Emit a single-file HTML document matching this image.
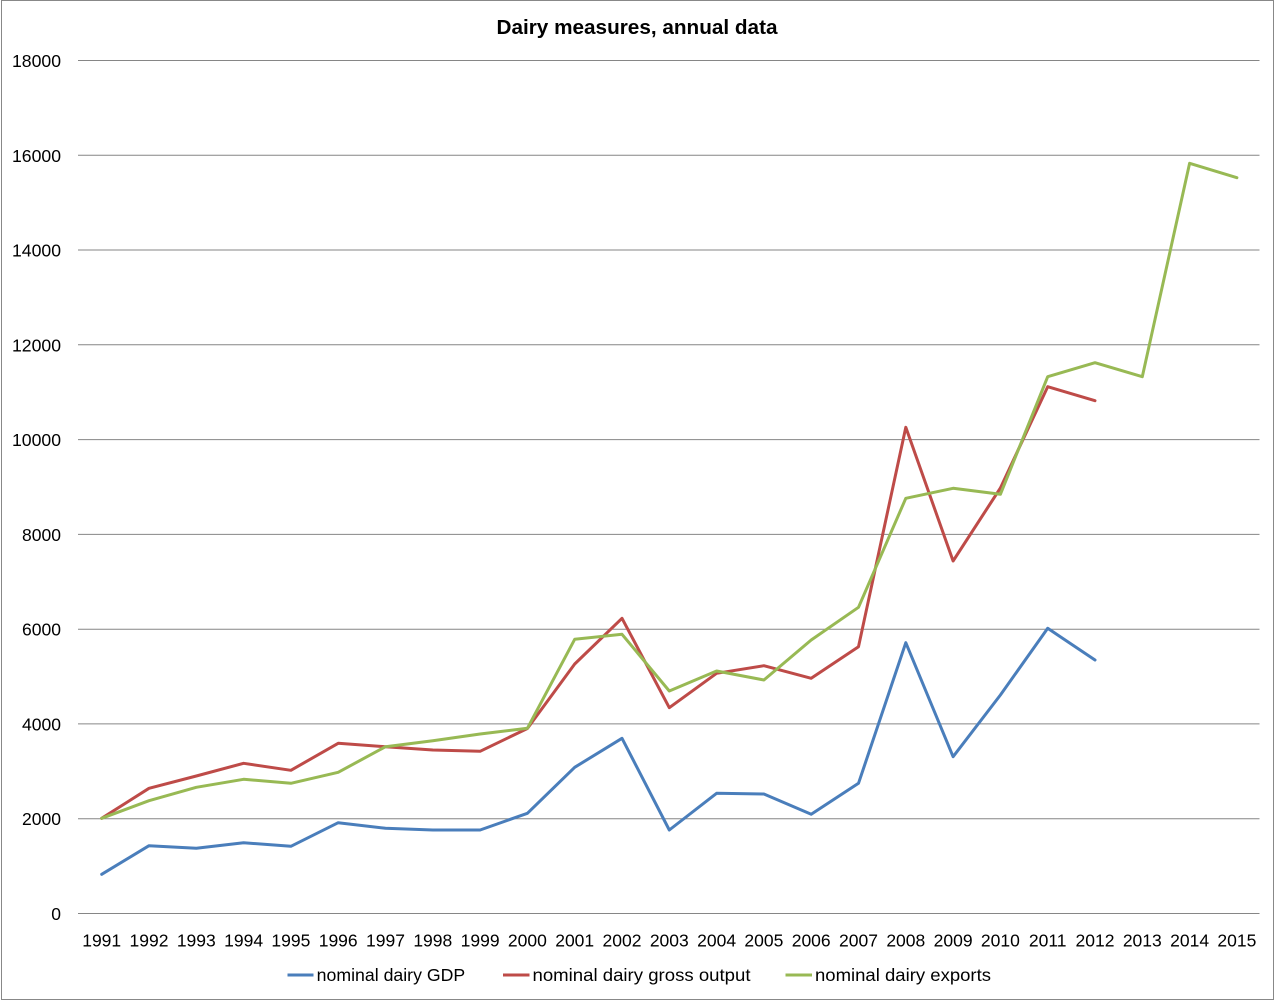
<!DOCTYPE html>
<html>
<head>
<meta charset="utf-8">
<style>
html,body{margin:0;padding:0;background:#fff;}
svg{display:block;}
text{font-family:"Liberation Sans",sans-serif;fill:#000;}
</style>
</head>
<body>
<svg width="1275" height="1001" viewBox="0 0 1275 1001" xmlns="http://www.w3.org/2000/svg">
<rect x="0" y="0" width="1275" height="1001" fill="#fff"/>
<rect x="1.5" y="0.5" width="1272" height="999" fill="none" stroke="#888" stroke-width="1"/>

<text x="637" y="34" text-anchor="middle" font-weight="bold" font-size="20" textLength="281" lengthAdjust="spacingAndGlyphs">Dairy measures, annual data</text>

<g stroke="#868686" stroke-width="1">
<line x1="78" y1="60.5" x2="1259.5" y2="60.5"/>
<line x1="78" y1="155.3" x2="1259.5" y2="155.3"/>
<line x1="78" y1="250" x2="1259.5" y2="250"/>
<line x1="78" y1="344.8" x2="1259.5" y2="344.8"/>
<line x1="78" y1="439.6" x2="1259.5" y2="439.6"/>
<line x1="78" y1="534.4" x2="1259.5" y2="534.4"/>
<line x1="78" y1="629.2" x2="1259.5" y2="629.2"/>
<line x1="78" y1="723.9" x2="1259.5" y2="723.9"/>
<line x1="78" y1="818.7" x2="1259.5" y2="818.7"/>
<line x1="78" y1="913.5" x2="1259.5" y2="913.5"/>
</g>

<g font-size="17.5" text-anchor="end">
<text x="61" y="67" textLength="49" lengthAdjust="spacingAndGlyphs">18000</text>
<text x="61" y="162" textLength="49" lengthAdjust="spacingAndGlyphs">16000</text>
<text x="61" y="256.5" textLength="49" lengthAdjust="spacingAndGlyphs">14000</text>
<text x="61" y="351.3" textLength="49" lengthAdjust="spacingAndGlyphs">12000</text>
<text x="61" y="446" textLength="49" lengthAdjust="spacingAndGlyphs">10000</text>
<text x="61" y="541" textLength="39" lengthAdjust="spacingAndGlyphs">8000</text>
<text x="61" y="635.7" textLength="39" lengthAdjust="spacingAndGlyphs">6000</text>
<text x="61" y="730.5" textLength="39" lengthAdjust="spacingAndGlyphs">4000</text>
<text x="61" y="825.2" textLength="39" lengthAdjust="spacingAndGlyphs">2000</text>
<text x="61" y="920">0</text>
</g>

<g font-size="17.5" text-anchor="middle">
<text x="101.7" y="946.5">1991</text>
<text x="149.0" y="946.5">1992</text>
<text x="196.3" y="946.5">1993</text>
<text x="243.6" y="946.5">1994</text>
<text x="290.9" y="946.5">1995</text>
<text x="338.2" y="946.5">1996</text>
<text x="385.5" y="946.5">1997</text>
<text x="432.8" y="946.5">1998</text>
<text x="480.1" y="946.5">1999</text>
<text x="527.4" y="946.5">2000</text>
<text x="574.7" y="946.5">2001</text>
<text x="622.0" y="946.5">2002</text>
<text x="669.3" y="946.5">2003</text>
<text x="716.6" y="946.5">2004</text>
<text x="763.9" y="946.5">2005</text>
<text x="811.2" y="946.5">2006</text>
<text x="858.5" y="946.5">2007</text>
<text x="905.8" y="946.5">2008</text>
<text x="953.1" y="946.5">2009</text>
<text x="1000.4" y="946.5">2010</text>
<text x="1047.7" y="946.5">2011</text>
<text x="1095.0" y="946.5">2012</text>
<text x="1142.3" y="946.5">2013</text>
<text x="1189.6" y="946.5">2014</text>
<text x="1236.9" y="946.5">2015</text>
</g>

<g fill="none" stroke-width="3" stroke-linejoin="round" stroke-linecap="round">
<polyline stroke="#4A7EBB" points="101.7,874.3 149.0,845.7 196.3,848.3 243.6,842.7 290.9,846.3 338.2,822.7 385.5,828.3 432.8,830 480.1,830 527.4,813.3 574.7,767.3 622.0,738.3 669.3,830 716.6,793.3 763.9,794 811.2,814.3 858.5,783.3 905.8,642.7 953.1,756.7 1000.4,695 1047.7,628.3 1095.0,660"/>
<polyline stroke="#BE4B48" points="101.7,818.3 149.0,788.3 196.3,776 243.6,763.3 290.9,770.3 338.2,743.3 385.5,746.7 432.8,750 480.1,751.3 527.4,728.5 574.7,664 622.0,618.3 669.3,707.7 716.6,673.3 763.9,665.7 811.2,678.3 858.5,646.7 905.8,427.3 953.1,561 1000.4,488 1047.7,386.7 1095.0,400.7"/>
<polyline stroke="#98B954" points="101.7,818.3 149.0,800.7 196.3,787.3 243.6,779.3 290.9,783.3 338.2,772.3 385.5,746.7 432.8,740.7 480.1,734 527.4,728.3 574.7,639.3 622.0,634.3 669.3,691 716.6,671 763.9,680 811.2,640 858.5,607.3 905.8,498.3 953.1,488.3 1000.4,494.3 1047.7,376.7 1095.0,362.7 1142.3,376.7 1189.6,163.3 1236.9,177.7"/>
</g>

<g stroke-width="3">
<line x1="287.5" y1="975" x2="313.5" y2="975" stroke="#4A7EBB"/>
<line x1="503" y1="975" x2="529.5" y2="975" stroke="#BE4B48"/>
<line x1="785.5" y1="975" x2="812" y2="975" stroke="#98B954"/>
</g>
<g font-size="17.5">
<text x="316.7" y="981" textLength="148.5" lengthAdjust="spacingAndGlyphs">nominal dairy GDP</text>
<text x="532.5" y="981" textLength="218" lengthAdjust="spacingAndGlyphs">nominal dairy gross output</text>
<text x="815" y="981" textLength="176" lengthAdjust="spacingAndGlyphs">nominal dairy exports</text>
</g>
</svg>
</body>
</html>
